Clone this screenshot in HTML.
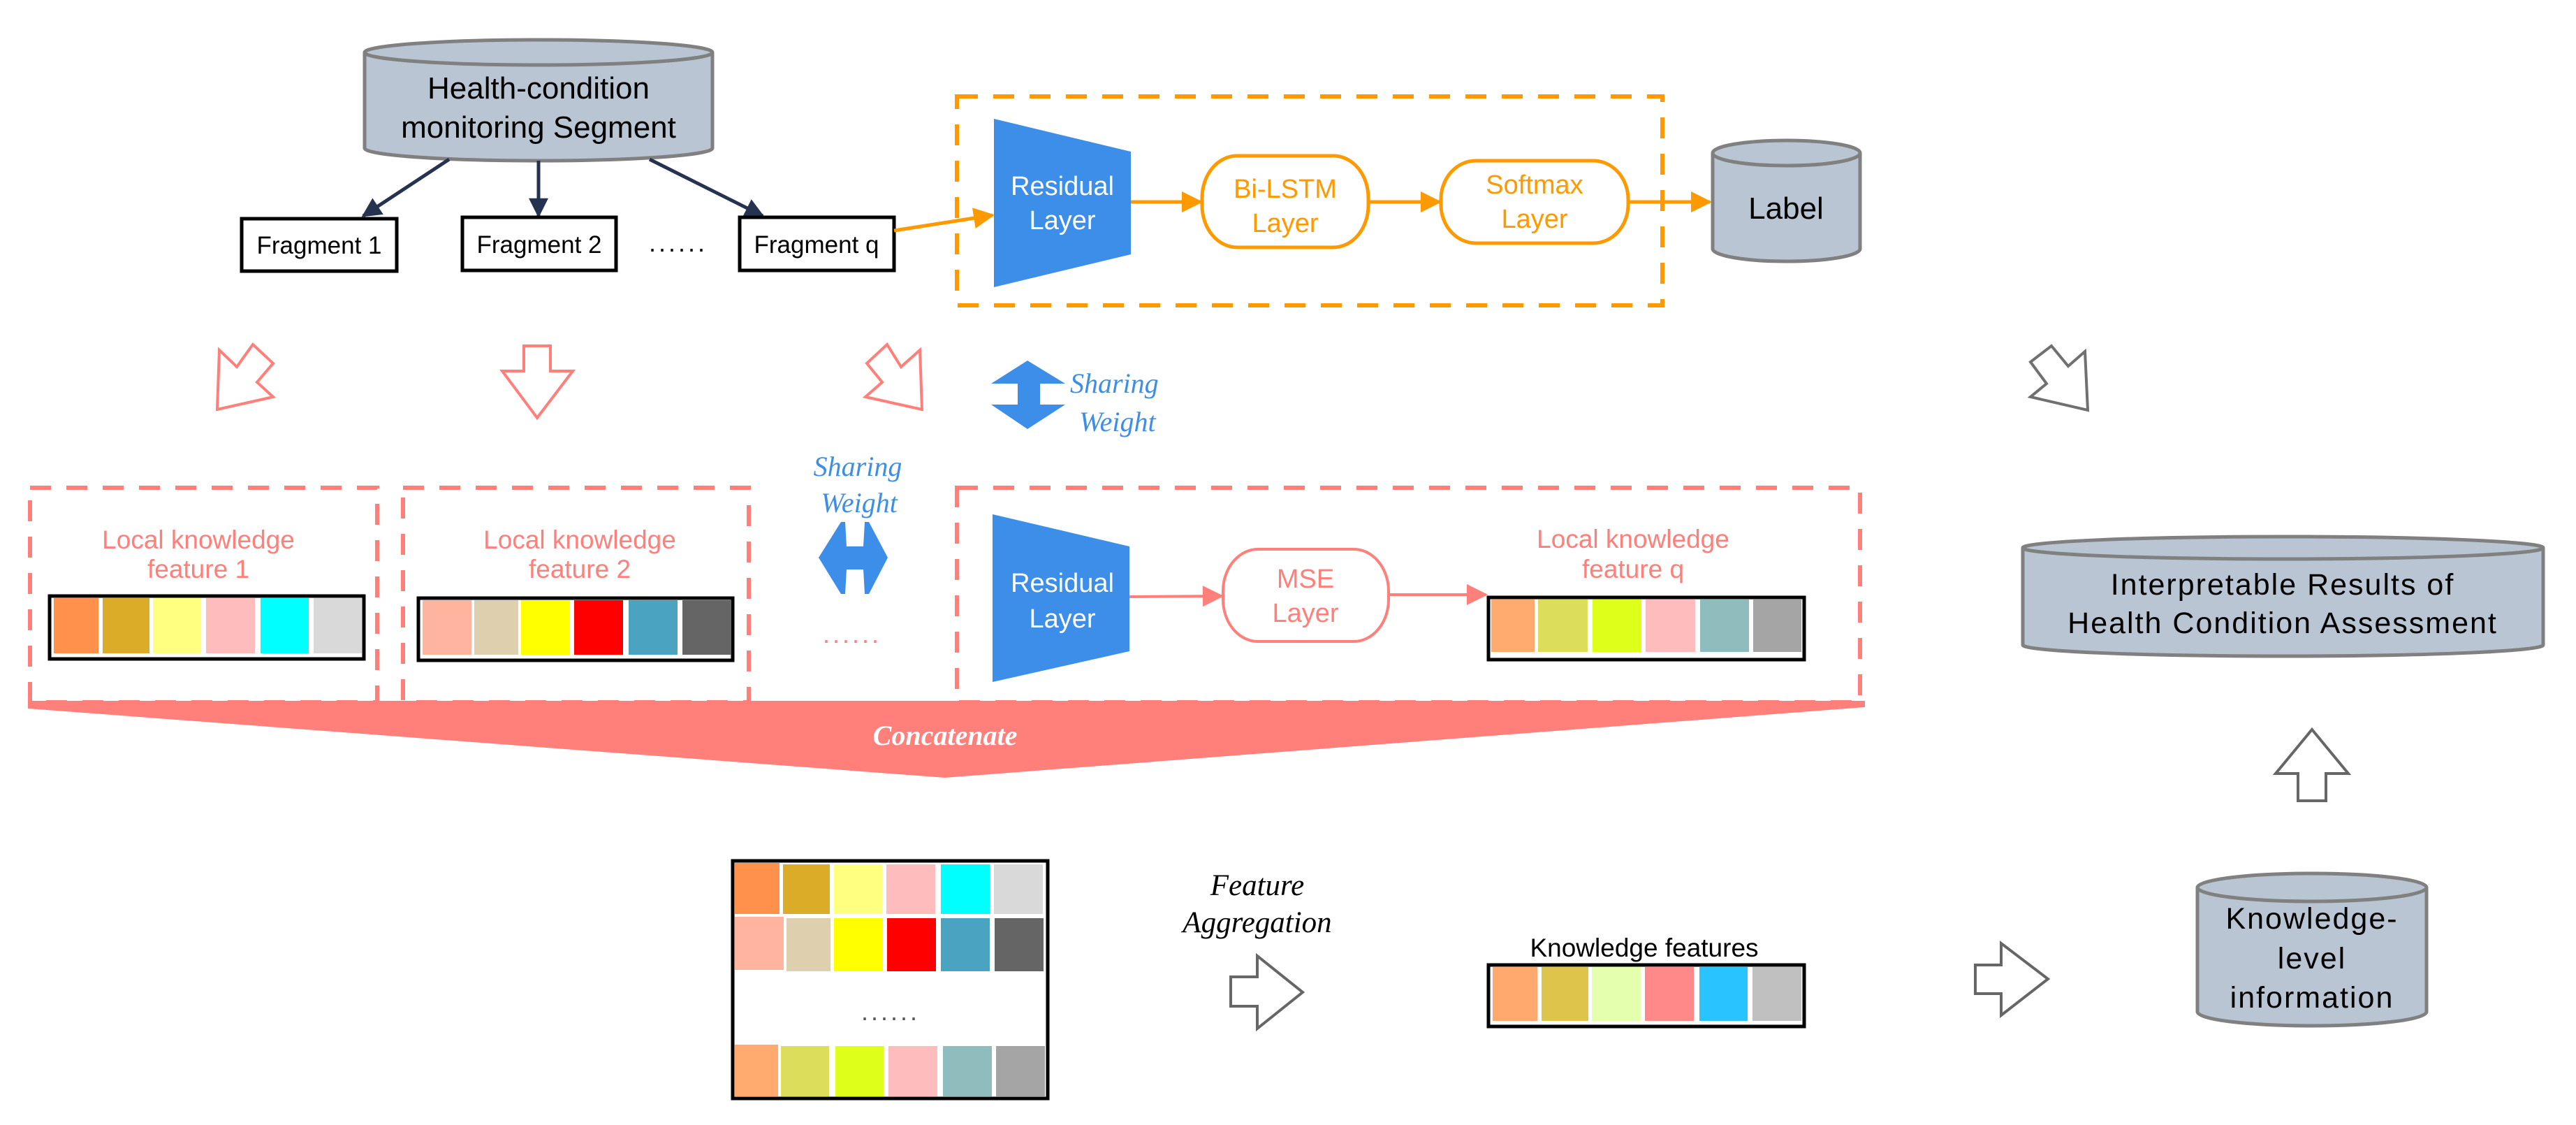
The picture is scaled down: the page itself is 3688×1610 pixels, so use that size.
<!DOCTYPE html>
<html><head><meta charset="utf-8"><style>html,body{margin:0;padding:0;background:#fff}svg{display:block}</style></head>
<body>
<svg width="3688" height="1610" viewBox="0 0 3688 1610" xmlns="http://www.w3.org/2000/svg" font-family="Liberation Sans, sans-serif">
<defs>
<marker id="ao" viewBox="0 0 10 10" refX="9" refY="5" markerWidth="34" markerHeight="30" orient="auto" markerUnits="userSpaceOnUse"><path d="M0,0 L10,5 L0,10z" fill="#ff9900"/></marker>
<marker id="ap" viewBox="0 0 10 10" refX="9" refY="5" markerWidth="34" markerHeight="30" orient="auto" markerUnits="userSpaceOnUse"><path d="M0,0 L10,5 L0,10z" fill="#ff7f7a"/></marker>
<marker id="anv" viewBox="0 0 10 10" refX="9" refY="5" markerWidth="34" markerHeight="28" orient="auto" markerUnits="userSpaceOnUse"><path d="M0,0 L10,5 L0,10z" fill="#263350"/></marker>
</defs>

<g stroke="#808080" stroke-width="5" fill="#b9c5d3">
<path d="M522,75 L522,212 A249,18 0 0 0 1020,212 L1020,75"/>
<ellipse cx="771" cy="75" rx="249" ry="18"/>
</g>
<text x="771" y="141" font-size="44" text-anchor="middle">Health-condition</text>
<text x="771" y="197" font-size="44" text-anchor="middle">monitoring Segment</text>

<g stroke="#263350" stroke-width="5" fill="none">
<line x1="643" y1="228" x2="520" y2="309" marker-end="url(#anv)"/>
<line x1="771" y1="230" x2="771" y2="309" marker-end="url(#anv)"/>
<line x1="930" y1="228" x2="1092" y2="309" marker-end="url(#anv)"/>
</g>

<g stroke="#000" stroke-width="5" fill="#fff">
<rect x="346" y="313" width="222" height="75"/>
<rect x="662" y="311" width="220" height="76"/>
<rect x="1059" y="311" width="221" height="76"/>
</g>
<g font-size="35" text-anchor="middle">
<text x="457" y="363">Fragment 1</text>
<text x="772" y="362">Fragment 2</text>
<text x="1169" y="362">Fragment q</text>
</g>
<text x="971" y="360" font-size="36" text-anchor="middle" letter-spacing="4">......</text>

<rect x="1370" y="138" width="1010" height="299" fill="none" stroke="#ff9900" stroke-width="6" stroke-dasharray="30,22"/>
<line x1="1280" y1="330" x2="1421" y2="308" stroke="#ff9900" stroke-width="5" marker-end="url(#ao)"/>
<polygon points="1423,170 1619,217 1619,364 1423,411" fill="#3d8ee8"/>
<text x="1521" y="279" font-size="38" fill="#fff" text-anchor="middle">Residual</text>
<text x="1521" y="328" font-size="38" fill="#fff" text-anchor="middle">Layer</text>
<g stroke="#ff9900" stroke-width="5" fill="none">
<line x1="1619" y1="289" x2="1719" y2="289" marker-end="url(#ao)"/>
<line x1="1959" y1="289" x2="2061" y2="289" marker-end="url(#ao)"/>
<line x1="2331" y1="289" x2="2448" y2="289" marker-end="url(#ao)"/>
<rect x="1721" y="223" width="238" height="131" rx="50" ry="60" fill="#fff"/>
<rect x="2063" y="230" width="268" height="118" rx="50" ry="55" fill="#fff"/>
</g>
<g fill="#ff9900" font-size="38" text-anchor="middle">
<text x="1840" y="283">Bi-LSTM</text><text x="1840" y="332">Layer</text>
<text x="2197" y="277">Softmax</text><text x="2197" y="326">Layer</text>
</g>
<g stroke="#808080" stroke-width="5" fill="#b9c5d3">
<path d="M2452,219 L2452,356 A105.5,18 0 0 0 2663,356 L2663,219"/>
<ellipse cx="2557.5" cy="219" rx="105.5" ry="18"/>
</g>
<text x="2557" y="313" font-size="44" text-anchor="middle">Label</text>

<g fill="#fff" stroke="#ff7f7a" stroke-width="4">
<polygon points="362,493 391,520 368,547 391,568 311,586 314,501 339,525"/>
<polygon points="750,495 788,495 788,531 820,531 769,598 719,531 750,531"/>
<polygon points="1270,493 1290,525 1317,501 1320,586 1239,568 1263,547 1241,520"/>
</g>
<polygon points="2937,495 2961,524 2985,503 2989,587 2907,568 2930,549 2907,518" fill="#fff" stroke="#707070" stroke-width="4"/>

<polygon points="1471,516 1525,549 1489,549 1489,579 1525,579 1471,614 1419,579 1457,579 1457,549 1419,549" fill="#3d8ee8"/>
<g fill="#3d8ee8" font-family="Liberation Serif, serif" font-style="italic" font-size="40">
<text x="1532" y="562">Sharing</text><text x="1545" y="617">Weight</text>
<text x="1228" y="681" text-anchor="middle">Sharing</text><text x="1230" y="733" text-anchor="middle">Weight</text>
</g>
<polygon points="1172,798 1204,747 1210,747 1212,782 1236,782 1238,747 1244,747 1271,798 1244,850 1238,850 1236,815 1212,815 1210,850 1204,850" fill="#3d8ee8"/>
<text x="1220" y="920" font-size="36" fill="#ff7f7a" text-anchor="middle" letter-spacing="4">......</text>

<g fill="none" stroke="#ff7f7a" stroke-width="6" stroke-dasharray="30,22">
<rect x="43" y="698" width="497" height="307"/>
<rect x="577" y="698" width="495" height="307"/>
<rect x="1370" y="698" width="1293" height="307"/>
</g>
<g fill="#ff7f7a" font-size="37" text-anchor="middle">
<text x="284" y="785">Local knowledge</text><text x="284" y="827">feature 1</text>
<text x="830" y="785">Local knowledge</text><text x="830" y="827">feature 2</text>
<text x="2338" y="784">Local  knowledge</text><text x="2338" y="827">feature q</text>
</g>
<rect x="71" y="853" width="450" height="90" fill="#fff" stroke="#000" stroke-width="5"/>
<g>
<rect x="77" y="856" width="64" height="79" fill="#ff914d"/><rect x="147" y="856" width="67" height="79" fill="#dbac28"/><rect x="219" y="856" width="69" height="79" fill="#ffff80"/><rect x="295" y="856" width="70" height="79" fill="#ffbcbc"/><rect x="373" y="856" width="69" height="79" fill="#00ffff"/><rect x="449" y="856" width="69" height="79" fill="#d9d9d9"/>
</g>
<rect x="599" y="856" width="450" height="89" fill="#fff" stroke="#000" stroke-width="5"/>
<g>
<rect x="605" y="859" width="70" height="78" fill="#ffb4a0"/><rect x="679" y="859" width="63" height="78" fill="#ded0ae"/><rect x="746" y="859" width="70" height="78" fill="#ffff00"/><rect x="822" y="859" width="70" height="78" fill="#ff0000"/><rect x="900" y="859" width="70" height="78" fill="#4aa3c0"/><rect x="977" y="859" width="70" height="78" fill="#656565"/>
</g>
<polygon points="1421,736 1617,782 1617,932 1421,976" fill="#3d8ee8"/>
<text x="1521" y="847" font-size="38" fill="#fff" text-anchor="middle">Residual</text>
<text x="1521" y="898" font-size="38" fill="#fff" text-anchor="middle">Layer</text>
<g stroke="#ff7f7a" stroke-width="4" fill="none">
<line x1="1617" y1="854" x2="1749" y2="853" marker-end="url(#ap)"/>
<line x1="1988" y1="851" x2="2127" y2="851" marker-end="url(#ap)"/>
<rect x="1751" y="786" width="237" height="132" rx="50" ry="60" fill="#fff"/>
</g>
<text x="1869" y="841" font-size="38" fill="#ff7f7a" text-anchor="middle">MSE</text>
<text x="1869" y="890" font-size="38" fill="#ff7f7a" text-anchor="middle">Layer</text>
<rect x="2131" y="855" width="452" height="89" fill="#fff" stroke="#000" stroke-width="5"/>
<g>
<rect x="2135" y="858" width="62" height="75" fill="#ffaa6e"/><rect x="2202" y="858" width="71" height="75" fill="#dddd5c"/><rect x="2280" y="858" width="70" height="75" fill="#deff1a"/><rect x="2356" y="858" width="71" height="75" fill="#ffbcbc"/><rect x="2434" y="858" width="70" height="75" fill="#8fbdbd"/><rect x="2510" y="858" width="69" height="75" fill="#a5a5a5"/>
</g>

<polygon points="40,1003 2670,1003 2670,1012 1353,1113 40,1014" fill="#ff7f7a"/>
<text x="1353" y="1066" font-family="Liberation Serif, serif" font-style="italic" font-weight="bold" font-size="40" fill="#fff" text-anchor="middle">Concatenate</text>

<rect x="1049" y="1232" width="451" height="340" fill="#fff" stroke="#000" stroke-width="5"/>
<g>
<rect x="1052" y="1235" width="64" height="73" fill="#ff914d"/><rect x="1121" y="1237" width="67" height="71" fill="#dbac28"/><rect x="1194" y="1237" width="69" height="71" fill="#ffff80"/><rect x="1269" y="1237" width="70" height="71" fill="#ffbcbc"/><rect x="1347" y="1237" width="70" height="71" fill="#00ffff"/><rect x="1423" y="1237" width="70" height="71" fill="#d9d9d9"/>
<rect x="1052" y="1312" width="70" height="76" fill="#ffb4a0"/><rect x="1126" y="1314" width="63" height="76" fill="#ded0ae"/><rect x="1194" y="1314" width="70" height="76" fill="#ffff00"/><rect x="1270" y="1314" width="70" height="76" fill="#ff0000"/><rect x="1347" y="1314" width="70" height="76" fill="#4aa3c0"/><rect x="1424" y="1314" width="70" height="76" fill="#656565"/>
<rect x="1052" y="1495" width="62" height="74" fill="#ffaa6e"/><rect x="1118" y="1497" width="69" height="72" fill="#dddd5c"/><rect x="1196" y="1497" width="69" height="72" fill="#deff1a"/><rect x="1272" y="1497" width="70" height="72" fill="#ffbcbc"/><rect x="1350" y="1497" width="70" height="72" fill="#8fbdbd"/><rect x="1426" y="1497" width="70" height="72" fill="#a5a5a5"/>
</g>
<text x="1275" y="1460" font-size="36" fill="#555" text-anchor="middle" letter-spacing="4">......</text>

<g font-family="Liberation Serif, serif" font-style="italic" font-size="43" text-anchor="middle">
<text x="1800" y="1281">Feature</text><text x="1800" y="1334">Aggregation</text>
</g>
<polygon points="1762,1398 1800,1398 1800,1368 1865,1420 1800,1472 1800,1440 1762,1440" fill="#fff" stroke="#666" stroke-width="4"/>

<text x="2354" y="1369" font-size="37" text-anchor="middle">Knowledge features</text>
<rect x="2131" y="1381" width="452" height="88" fill="#fff" stroke="#000" stroke-width="5"/>
<g>
<rect x="2137" y="1384" width="64" height="77" fill="#ffa96e"/><rect x="2207" y="1384" width="67" height="77" fill="#dec44a"/><rect x="2279" y="1384" width="70" height="77" fill="#e4ffae"/><rect x="2355" y="1384" width="70" height="77" fill="#ff8888"/><rect x="2433" y="1384" width="69" height="77" fill="#29c4ff"/><rect x="2509" y="1384" width="70" height="77" fill="#c0c0c0"/>
</g>
<polygon points="2828,1381 2865,1381 2865,1350 2932,1401 2865,1453 2865,1422 2828,1422" fill="#fff" stroke="#666" stroke-width="4"/>

<g stroke="#808080" stroke-width="5" fill="#b9c5d3">
<path d="M2896,784 L2896,923 A372.5,16 0 0 0 3641,923 L3641,784"/>
<ellipse cx="3268.5" cy="784" rx="372.5" ry="16"/>
<path d="M3146,1270 L3146,1448 A164,20 0 0 0 3474,1448 L3474,1270"/>
<ellipse cx="3310" cy="1270" rx="164" ry="20"/>
</g>
<g font-size="43" text-anchor="middle" letter-spacing="2">
<text x="3268" y="851">Interpretable Results of</text>
<text x="3268" y="906">Health Condition Assessment</text>
<text x="3310" y="1329">Knowledge-</text>
<text x="3310" y="1386">level</text>
<text x="3310" y="1442">information</text>
</g>
<polygon points="3290,1146 3330,1146 3330,1107 3362,1107 3310,1044 3258,1107 3290,1107" fill="#fff" stroke="#666" stroke-width="4"/>
</svg>
</body></html>
